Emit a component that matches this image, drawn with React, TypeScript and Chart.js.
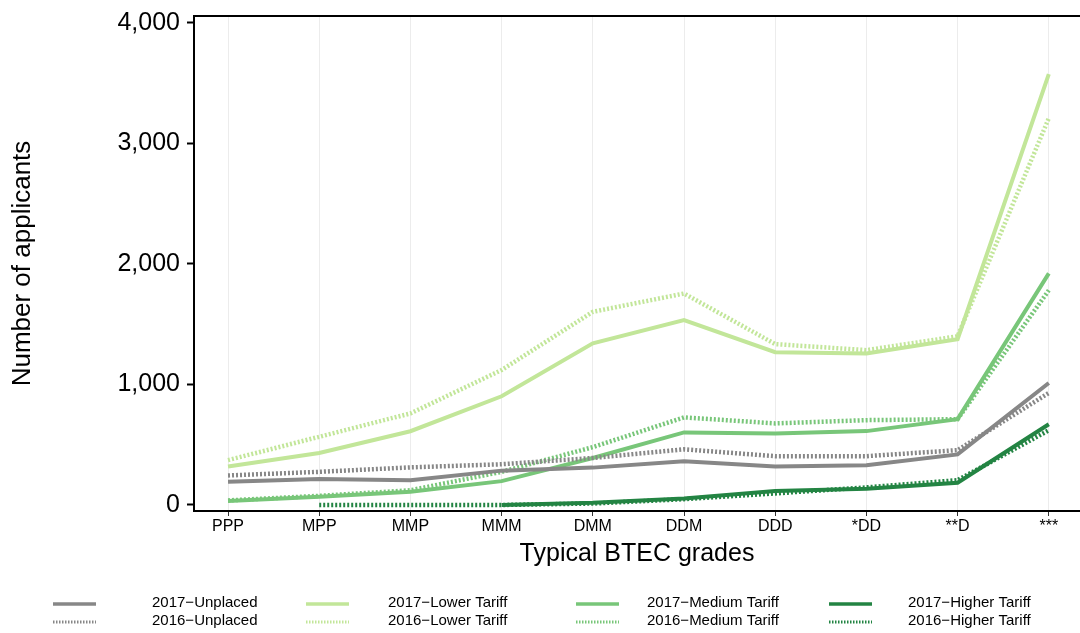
import React, { useEffect, useRef } from "react";
import { Chart, registerables } from "chart.js";

Chart.register(...registerables);

const categories = ["PPP", "MPP", "MMP", "MMM", "DMM", "DDM", "DDD", "*DD", "**D", "***"];
const yTickValues = [0, 1000, 2000, 3000, 4000];

const unplaced2017 = [192, 215, 205, 285, 310, 362, 320, 330, 420, 1012];
const unplaced2016 = [245, 275, 312, 338, 390, 462, 405, 405, 455, 930];
const lower2017 = [320, 432, 612, 902, 1342, 1535, 1268, 1257, 1376, 3575];
const lower2016 = [372, 566, 760, 1120, 1603, 1755, 1335, 1285, 1400, 3210];
const medium2017 = [32, 68, 110, 198, 390, 602, 594, 613, 712, 1922];
const medium2016 = [38, 76, 122, 275, 480, 727, 677, 704, 712, 1782];
const higher2017 = [null, null, null, 0, 18, 54, 115, 134, 184, 670];
const higher2016 = [null, 0, 0, 0, 12, 48, 96, 146, 206, 620];

const groupNames = ["Unplaced", "Lower Tariff", "Medium Tariff", "Higher Tariff"];
const groupColors = ["#878787", "#c2e699", "#78c679", "#238443"];
const series2017 = [unplaced2017, lower2017, medium2017, higher2017];
const series2016 = [unplaced2016, lower2016, medium2016, higher2016];

const FONT = "'Liberation Sans', Arial, Helvetica, sans-serif";
const DOT = [2, 2];

const legendCols = [
  { line: 53, text: 152 },
  { line: 306, text: 388 },
  { line: 576, text: 647 },
  { line: 829, text: 908 },
];
const legendRows = [603, 621];

const toPoints = (arr: (number | null)[]) => arr.map((v, i) => ({ x: i, y: v }));

const frameAndLegend = {
  id: "frameAndLegend",
  afterDraw(chart: any) {
    const { ctx, chartArea } = chart;
    ctx.save();
    // top border
    ctx.strokeStyle = "#000";
    ctx.lineWidth = 2;
    ctx.beginPath();
    ctx.moveTo(chartArea.left - 1, chartArea.top);
    ctx.lineTo(chart.width, chartArea.top);
    ctx.stroke();
    // legend
    ctx.font = `15px ${FONT}`;
    ctx.fillStyle = "#000";
    ctx.textBaseline = "middle";
    ctx.textAlign = "left";
    chart.data.datasets.forEach((ds: any) => {
      const col = legendCols[ds.group];
      const y = legendRows[ds.row];
      ctx.strokeStyle = ds.borderColor;
      ctx.lineWidth = ds.row === 0 ? 3.5 : 3;
      ctx.setLineDash(ds.row === 0 ? [] : [1.5, 1.5]);
      ctx.beginPath();
      ctx.moveTo(col.line, y + 1);
      ctx.lineTo(col.line + 43, y + 1);
      ctx.stroke();
      ctx.setLineDash([]);
      ctx.fillText(ds.label, col.text, y);
    });
    ctx.restore();
  },
};

export default function App() {
  const ref = useRef<HTMLCanvasElement>(null);

  useEffect(() => {
    if (!ref.current) return;
    const datasets: any[] = [];
    for (let g = 0; g < groupNames.length; g++) {
      datasets.push({
        label: `2017\u2212${groupNames[g]}`,
        data: toPoints(series2017[g]),
        borderColor: groupColors[g],
        backgroundColor: groupColors[g],
        borderWidth: 4,
        pointRadius: 0,
        tension: 0,
        fill: false,
        group: g,
        row: 0,
      });
      datasets.push({
        label: `2016\u2212${groupNames[g]}`,
        data: toPoints(series2016[g]),
        borderColor: groupColors[g],
        backgroundColor: groupColors[g],
        borderWidth: 4.5,
        borderDash: DOT,
        pointRadius: 0,
        tension: 0,
        fill: false,
        group: g,
        row: 1,
      });
    }

    const chart = new Chart(ref.current, {
      type: "line",
      data: { datasets },
      options: {
        responsive: false,
        animation: false,
        layout: { padding: { left: 0, right: 0, top: 16, bottom: 63 } },
        plugins: { legend: { display: false }, tooltip: { enabled: false } },
        scales: {
          x: {
            type: "linear",
            min: -0.373,
            max: 9.342,
            afterBuildTicks: (s: any) => {
              s.ticks = categories.map((_, i) => ({ value: i }));
            },
            afterFit: (s: any) => {
              s.height = 59;
              s.paddingLeft = 0;
              s.paddingRight = 0;
            },
            ticks: {
              autoSkip: false,
              maxRotation: 0,
              padding: 1,
              color: "#000",
              font: { family: FONT, size: 16 },
              callback: (v: any) => categories[Math.round(v)] ?? "",
            },
            grid: {
              color: "#ececec",
              lineWidth: 1,
              drawTicks: true,
              tickLength: 5,
              tickColor: "#333",
            },
            border: { display: true, color: "#000", width: 2 },
            title: {
              display: true,
              text: "Typical BTEC grades",
              color: "#000",
              font: { family: FONT, size: 25 },
              padding: { top: 0, bottom: 1 },
            },
          },
          y: {
            type: "linear",
            min: -50,
            max: 4058,
            afterBuildTicks: (s: any) => {
              s.ticks = yTickValues.map((v) => ({ value: v }));
            },
            afterFit: (s: any) => {
              s.width = 194;
              s.paddingTop = 0;
              s.paddingBottom = 0;
            },
            ticks: {
              padding: 7,
              color: "#000",
              font: { family: FONT, size: 25 },
              callback: (v: any) => Number(v).toLocaleString("en-US"),
            },
            grid: {
              drawOnChartArea: false,
              drawTicks: true,
              tickLength: 7,
              tickColor: "#000",
              tickWidth: 2,
            },
            border: { display: true, color: "#000", width: 2 },
            title: {
              display: true,
              text: "Number of applicants",
              color: "#000",
              font: { family: FONT, size: 26 },
              padding: { top: 7, bottom: 0 },
            },
          },
        },
      },
      plugins: [frameAndLegend],
    });
    return () => chart.destroy();
  }, []);

  return (
    <div style={{ position: "fixed", left: 0, top: 0, width: 1080, height: 633, background: "#fff" }}>
      <canvas ref={ref} width={1080} height={633} style={{ display: "block" }} />
    </div>
  );
}
